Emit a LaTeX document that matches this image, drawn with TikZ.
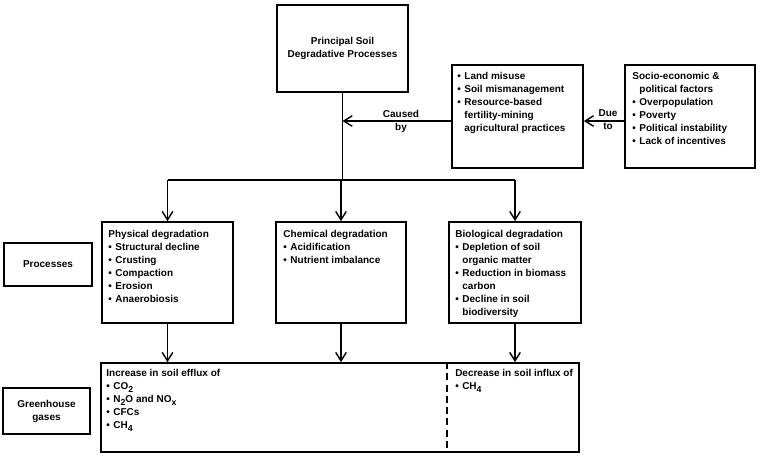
\documentclass[tikz,border=0pt]{standalone}
\usepackage{fontspec}
\setmainfont{Liberation Sans}
\usetikzlibrary{positioning, arrows.meta}
\newlength\px
\setlength\px{0.025cm}
% bullet and hanging indent for list lines
\newcommand\itm{\makebox[7\px][l]{\textbullet}}
\newcommand\cnt{\hspace*{7\px}}
% lowered subscript for the gas formulas
\newcommand\sbs[1]{\raisebox{-0.5ex}{\fontsize{6.2}{6.2}\selectfont #1}}
\tikzset{
  box/.style={draw, line width=1.2pt, minimum width=131\px,
              minimum height=101\px, inner sep=0pt,
              font=\fontsize{7.1}{9.2}\selectfont\bfseries, align=center},
  txt/.style={font=\fontsize{7.1}{9.2}\selectfont\bfseries,
              align=left, inner sep=0pt},
  arr/.style={line width=1.1pt,
              -{Straight Barb[length=6pt,width=7.5pt,line width=1pt]}},
  link/.style={line width=1.1pt}
}

\begin{document}
\begin{tikzpicture}[x=0.025cm, y=-0.025cm]
  \useasboundingbox (0,0) rectangle (760,456);

  % top row
  \node[box, minimum height=87\px] (principal) at (342.5,48.5)
    {Principal Soil\\Degradative Processes};
  \node[box, minimum height=103\px] (misuse) at (517.5,116.5) {};
  \node[txt, below right=8\px and 6\px of misuse.north west] (misusetxt)
    {\itm Land misuse\\ \itm Soil mismanagement\\ \itm Resource-based\\
     \cnt fertility-mining\\ \cnt agricultural practices};
  \node[box, minimum width=130\px, minimum height=103\px] (socio) at (690,116.5) {};
  \node[txt, below right=8\px and 8\px of socio.north west] (sociotxt)
    {Socio-economic \&\\ \cnt political factors\\ \itm Overpopulation\\
     \itm Poverty\\ \itm Political instability\\ \itm Lack of incentives};

  \coordinate (arrowrow) at (0,121);
  \coordinate (split) at (0,180);
  \coordinate (divider) at (447,0);

  % processes row
  \node[box] (phys) at (167.5,272.5) {};
  \node[txt, below right=9\px and 7\px of phys.north west] (phystxt)
    {Physical degradation\\ \itm Structural decline\\ \itm Crusting\\
     \itm Compaction\\ \itm Erosion\\ \itm Anaerobiosis};
  \node[box, minimum width=130\px] (chem) at (341,272.5) {};
  \node[txt, below right=9\px and 8\px of chem.north west] (chemtxt)
    {Chemical degradation\\ \itm Acidification\\ \itm Nutrient imbalance};
  \node[box, minimum width=132\px] (bio) at (515,272.5) {};
  \node[txt, below right=9\px and 7\px of bio.north west] (biotxt)
    {Biological degradation\\ \itm Depletion of soil\\ \cnt organic matter\\
     \itm Reduction in biomass\\ \cnt carbon\\ \itm Decline in soil\\
     \cnt biodiversity};

  % greenhouse gases row
  \node[box, minimum width=478\px, minimum height=89\px] (gases) at (340,407.5) {};
  \node[txt, below right=7\px and 6\px of gases.north west] (effluxtxt)
    {Increase in soil efflux of\\ \itm CO\sbs{2}\\
     \itm N\sbs{2}O and NO\sbs{x}\\ \itm CFCs\\
     \itm CH\sbs{4}};
  \node[txt, anchor=north west] (influxtxt)
    at ([xshift=8\px, yshift=-7\px]gases.north west -| divider)
    {Decrease in soil influx of\\ \itm CH\sbs{4}};
  \draw[link, dash pattern=on 5pt off 3pt] (gases.north -| divider) -- (gases.south -| divider);

  % side labels
  \node[box, minimum width=88\px, minimum height=43\px] (proclbl) at (48,264.5) {Processes};
  \node[box, minimum width=87\px, minimum height=46\px] (gaslbl) at (46.5,411) {Greenhouse\\gases};

  % causes
  \draw[arr] (socio.west |- arrowrow) -- (misuse.east |- arrowrow);
  \node[txt, align=center] (duelbl) at (608,120) {Due\\to};
  \draw[arr] (misuse.west |- arrowrow) -- (principal.south |- arrowrow);
  \node[txt, align=center] (causedlbl) at (401,121) {Caused\\by};

  % branches
  \draw[link] (principal.south) -- (principal.south |- split);
  \draw[link] (phys.north |- split) -- (bio.north |- split);
  \foreach \p in {phys, chem, bio} {
    \draw[arr] (\p.north |- split) -- (\p.north);
    \draw[arr] (\p.south) -- (\p.south |- gases.north);
  }
\end{tikzpicture}
\end{document}
